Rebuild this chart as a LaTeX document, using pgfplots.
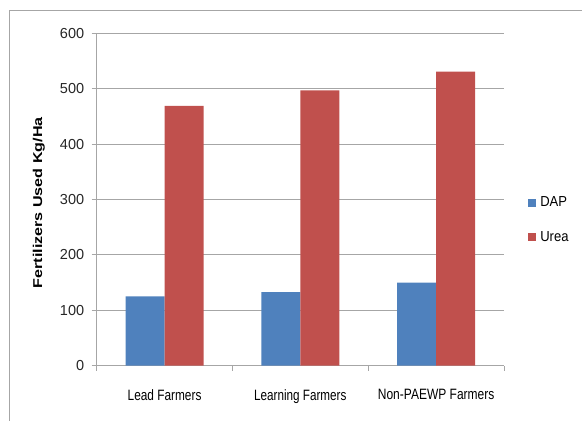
\documentclass[border=0pt]{standalone}
\usepackage{pgfplots}
\pgfplotsset{compat=1.18}
\usepackage{fontspec}
\setmainfont{Liberation Sans}
\definecolor{dapblue}{HTML}{4F81BD}
\definecolor{ureared}{HTML}{C0504D}
\definecolor{gridgray}{HTML}{A6A6A6}
\definecolor{txt}{HTML}{262626}
\begin{document}
\begin{tikzpicture}
\path[use as bounding box] (0,0) rectangle (582bp,421bp);
\draw[color=gridgray, line width=1bp] (9bp,0) -- (9bp,410bp) -- (582bp,410bp);
\begin{axis}[
  at={(96.7bp,55.3bp)}, anchor=south west, scale only axis,
  width=407.3bp, height=332.4bp,
  xmin=0.5, xmax=3.5, ymin=0, ymax=600,
  ybar=0pt, bar width=0.287,
  axis x line*=bottom, axis y line*=left,
  axis line style={gridgray, line width=0.8bp, -},
  ytick={0,100,...,600},
  ymajorgrids, grid style={gridgray, line width=0.8bp},
  xtick={1,2,3},
  xticklabels={\scalebox{0.79}[1]{Lead Farmers},\scalebox{0.78}[1]{Learning Farmers},\scalebox{0.8}[1]{Non-PAEWP Farmers}},
  minor xtick={0.5,1.5,2.5,3.5},
  major x tick style={draw=none},
  tick align=outside,
  major tick length=5bp, minor tick length=5bp,
  tick style={gridgray, line width=0.8bp},
  /pgf/number format/assume math mode=true,
  yticklabel style={font=\fontsize{14.5bp}{16bp}\selectfont, text=txt, xshift=-4bp},
  xticklabel style={font=\fontsize{15bp}{16bp}\selectfont, text=black, yshift=-15bp},
  ylabel={\fontsize{12.8bp}{14bp}\selectfont\bfseries\scalebox{1.26}[1]{Fertilizers Used Kg/Ha}},
  every axis y label/.style={at={(axis description cs:-0.142,0.49)}, rotate=90, anchor=center, text=black},
  legend image code/.code={\path[#1] (0bp,-4bp) rectangle (8bp,4bp); \path (0bp,0bp) (11bp,0bp);},
  legend style={at={(rel axis cs:1.058,0.439)}, anchor=west, draw=none, fill=none,
    font=\fontsize{14.5bp}{16bp}\selectfont, row sep=20bp, inner xsep=0pt,
    nodes={inner sep=1.5bp}},
  legend cell align=left,
]
\addplot[fill=dapblue, draw=none] coordinates {(1,125) (2,133) (3,150)};
\addplot[fill=ureared, draw=none] coordinates {(1,469) (2,497) (3,531)};
\legend{\scalebox{0.9}[1]{DAP},\scalebox{0.9}[1]{Urea}}
\end{axis}
\end{tikzpicture}
\end{document}
